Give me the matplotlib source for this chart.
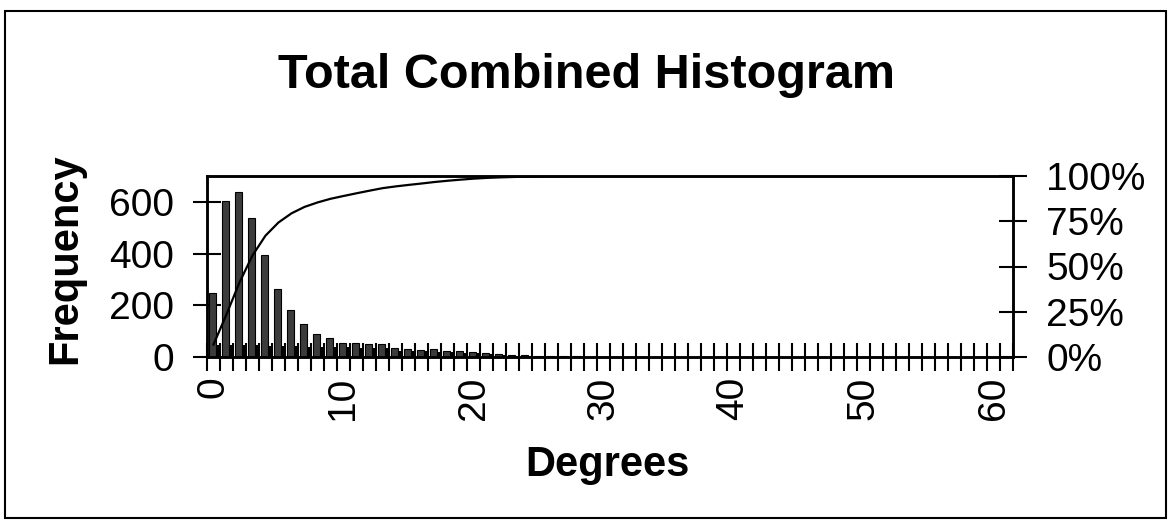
import matplotlib
matplotlib.use('Agg')
import matplotlib.pyplot as plt
import numpy as np
from matplotlib.patches import Rectangle

plt.rcParams['font.family'] = ['Liberation Sans', 'DejaVu Sans']

# ---- data ----
categories = list(range(62))
freq_main = [248, 603, 638, 538, 395, 263, 182, 128, 89, 73,
             56, 54, 52, 50, 35, 30, 28, 30, 25, 22,
             20, 15, 10, 8, 6, 5, 3, 2, 2, 1,
             1, 0, 0, 0, 0, 0, 0, 0, 0, 0,
             0, 0, 0, 0, 0, 0, 0, 0, 0, 0,
             0, 0, 0, 0, 0, 0, 0, 0, 0, 0,
             0, 0]
freq_second = [45, 45, 45, 45, 42, 42, 42, 40, 40, 38,
               38, 36, 35, 35, 25, 24, 22, 20, 18, 16,
               14, 10, 6, 4, 3, 2, 0, 0, 0, 0,
               0, 0, 0, 0, 0, 0, 0, 0, 0, 0,
               0, 0, 0, 0, 0, 0, 0, 0, 0, 0,
               0, 0, 0, 0, 0, 0, 0, 0, 0, 0,
               0, 0]
x_tick_labels = ['0', '10', '20', '30', '40', '50', '60']
left_ticks = [0, 200, 400, 600]
right_tick_labels = ['0%', '25%', '50%', '75%', '100%']

title = 'Total Combined Histogram'
ylabel = 'Frequency'
xlabel = 'Degrees'

# cumulative percentage of the main series
cum = np.cumsum(freq_main) / np.sum(freq_main)

W, H = 1173, 529
fig = plt.figure(figsize=(W / 100, H / 100), dpi=100)
ax = fig.add_axes([207 / W, 1 - 357 / H, 806 / W, 181 / H])

x = np.array(categories)
ax.bar(x - 0.07, freq_main, width=0.55, color='#3c3c3c', edgecolor='black', linewidth=0.8, zorder=2)
ax.bar(x + 0.36, freq_second, width=0.28, color='black', linewidth=0, zorder=2)

ax.set_xlim(-0.5, 61.5)
ax.set_ylim(0, 700)
ax.set_yticks(left_ticks)
ax.set_yticklabels([str(v) for v in left_ticks])
ax.tick_params(axis='y', direction='inout', length=20, width=1.5, labelsize=28, pad=14)

ax.set_xticks([int(s) for s in x_tick_labels])
ax.set_xticklabels(x_tick_labels, rotation=90)
ax.tick_params(axis='x', which='major', length=0, labelsize=28, pad=14)
ax.set_xticks(np.arange(-0.5, 62, 1), minor=True)
ax.tick_params(axis='x', which='minor', direction='inout', length=20, width=1.5)

for s in ax.spines.values():
    s.set_linewidth(1.8)

ax2 = ax.twinx()
ax2.plot(x, cum, color='black', linewidth=1.6, zorder=3)
ax2.set_ylim(0, 1)
ax2.set_yticks([0, 0.25, 0.5, 0.75, 1.0])
ax2.set_yticklabels(right_tick_labels)
ax2.tick_params(axis='y', direction='inout', length=20, width=1.5, labelsize=28, pad=14)
for s in ax2.spines.values():
    s.set_linewidth(1.8)

fig.text(586 / W, 1 - 75 / H, title, ha='center', va='center', fontsize=35, fontweight='bold')
fig.text(65 / W, 1 - 259 / H, ylabel, rotation=90, ha='center', va='center', fontsize=30, fontweight='bold')
fig.text(607 / W, 1 - 465 / H, xlabel, ha='center', va='center', fontsize=30, fontweight='bold')

fig.patches.append(Rectangle((5 / W, 1 - 518 / H), 1161 / W, 507 / H, transform=fig.transFigure,
                             fill=False, edgecolor='black', linewidth=1.5))

fig.savefig('out.png', dpi=100)
